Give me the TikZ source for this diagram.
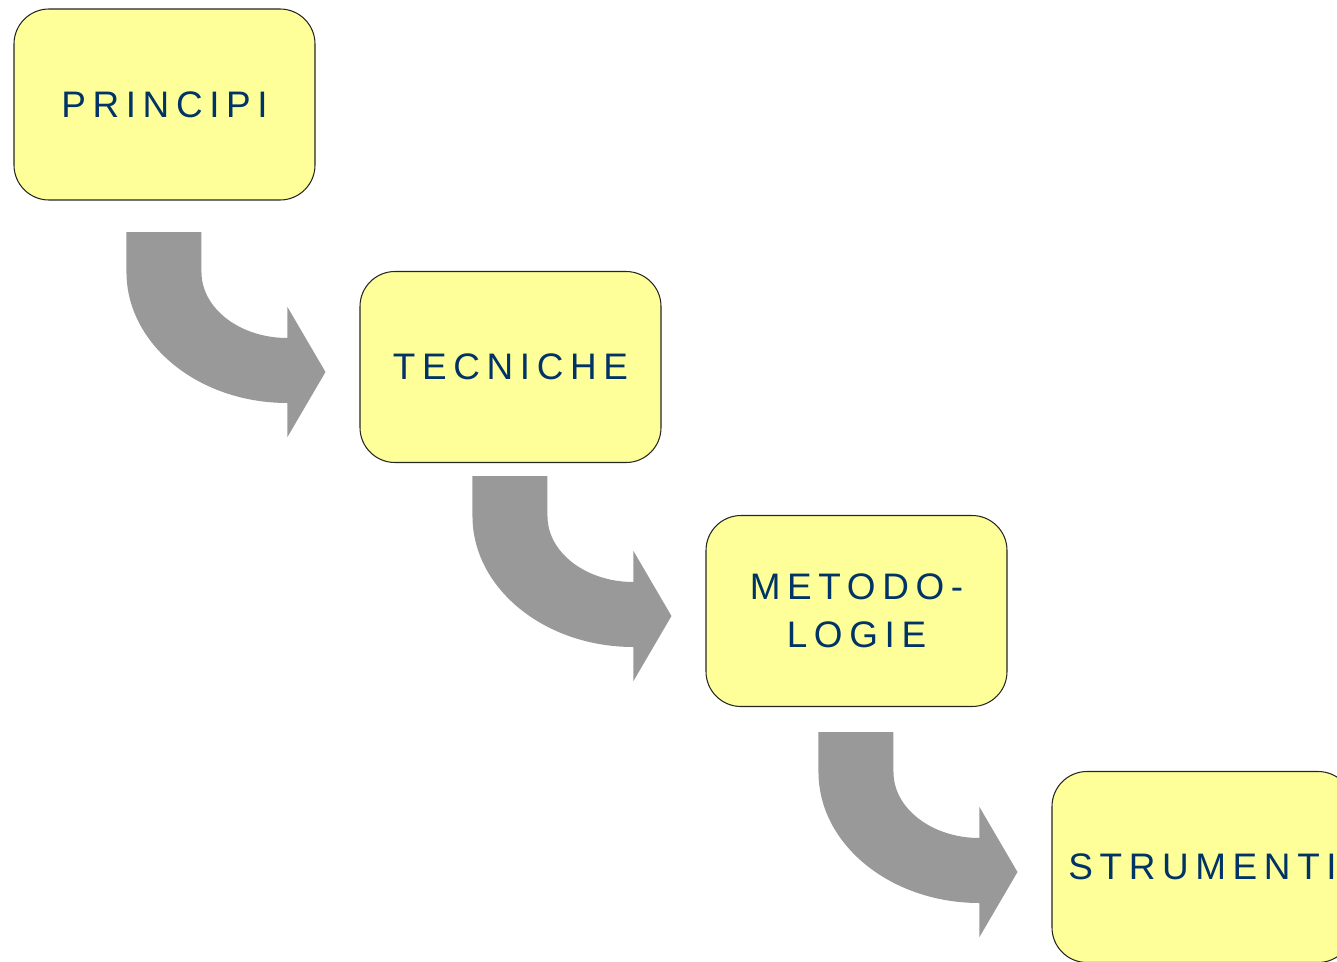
\documentclass[tikz,border=0pt]{standalone}
\usepackage{fontspec}
\newfontfamily\stagefont[LetterSpace=18]{Liberation Sans}
\usepackage{tikz}
\usetikzlibrary{positioning}
\usepackage{xcolor}
\definecolor{stagefill}{HTML}{FFFF99}
\definecolor{stagetext}{HTML}{003366}
\definecolor{arrowgray}{HTML}{999999}

\begin{document}
\begin{tikzpicture}[x=0.2mm, y=-0.2mm,
    stage/.style={draw=black!85, line width=0.6pt, fill=stagefill, rounded corners=7mm,
                  minimum width=60.2mm, minimum height=38.2mm, text=stagetext,
                  font=\stagefont\fontsize{21}{27}\selectfont, align=center},
    bendarrow/.pic={
       \fill[arrowgray] (-37.5,0) -- (-37.5,40)
            .. controls (-37.5,112.3) and (34.6,171) .. (123.5,171)
            -- (123.5,205) -- (161.5,140) -- (123.5,75) -- (123.5,106)
            .. controls (76,106) and (37.5,76.5) .. (37.5,40)
            -- (37.5,0) -- cycle;
    }]
       \useasboundingbox (0,0) rectangle (1337,961);

       \node[stage] (principi)  at ( 164.5, 104.5) {PRINCIPI};
       \node[stage] (tecniche)  at ( 510.5, 367)   {TECNICHE};
       \node[stage] (metodo)    at ( 856.5, 611)   {METODO-\\LOGIE};
       \node[stage] (strumenti) at (1202.5, 867)   {STRUMENTI};

       % arrows sit just left of the box they point to
       \path (tecniche.west)  ++(-195.5,-135) pic {bendarrow};
       \path (metodo.west)    ++(-195.5,-135) pic {bendarrow};
       \path (strumenti.west) ++(-195.5,-135) pic {bendarrow};
    \end{tikzpicture}
\end{document}
